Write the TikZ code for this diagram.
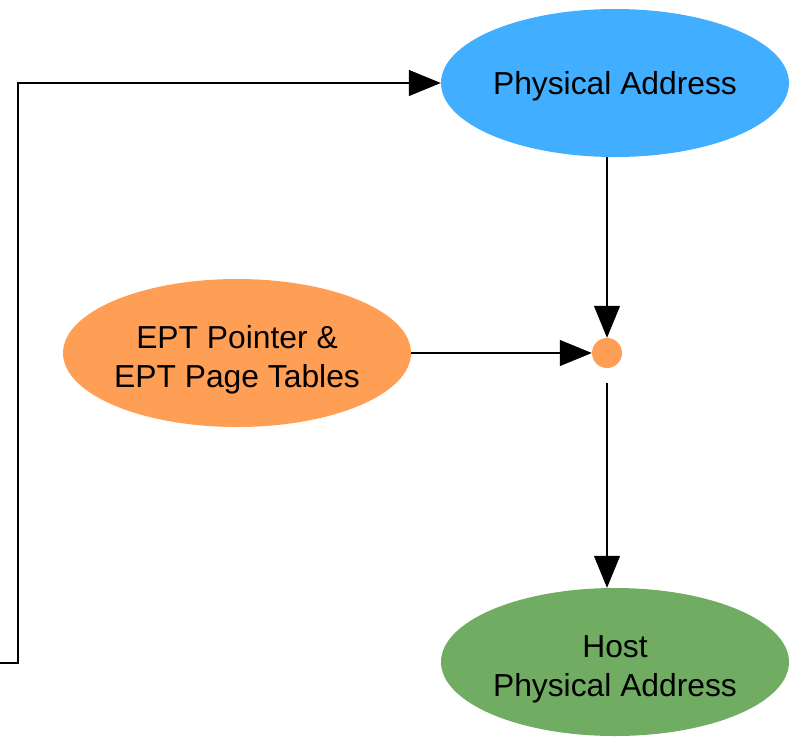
\documentclass[tikz,border=0pt]{standalone}
\usepackage{fontspec}
\setmainfont{Liberation Sans}
\usetikzlibrary{arrows.meta,shapes.geometric}

\definecolor{addrblue}{HTML}{42AEFF}
\definecolor{eptorange}{HTML}{FF9F55}
\definecolor{hostgreen}{HTML}{70AD62}

\tikzset{
  bubble/.style={ellipse, minimum width=348pt, minimum height=148pt, inner sep=0pt},
  caption/.style={align=center, inner sep=0pt, font=\fontsize{31.8}{39}\selectfont},
  flow/.style={-{Triangle[length=32pt,width=26pt]}, line width=1.2pt}
}

\begin{document}
\begin{tikzpicture}[x=1pt,y=-1pt]
    \useasboundingbox (0,0) rectangle (790,737);

    \node[bubble, fill=addrblue, label={[caption, yshift=-3pt]center:Physical Address}] (addr) at (615,83) {};
    \node[bubble, fill=eptorange, label={[caption, yshift=-7pt]center:EPT Pointer \&\\EPT Page Tables}] (ept) at (237,353) {};
    \node[circle, fill=eptorange, minimum size=30pt, inner sep=0pt] (dot) at (607,353) {};
    \node[bubble, fill=hostgreen, label={[caption, yshift=-7pt]center:Host\\Physical Address}] (host) at (615,662) {};

    \coordinate (src) at (0,663);
    \coordinate (bend) at (18,663);

    \draw[flow] (src) -- (bend) |- (addr.west);
    \draw[flow] (addr.south -| dot) -- (dot);
    \draw[flow] (ept) -- (dot);
    \draw[flow, shorten <=15pt] (dot) -- (host.north -| dot);
\end{tikzpicture}
\end{document}
